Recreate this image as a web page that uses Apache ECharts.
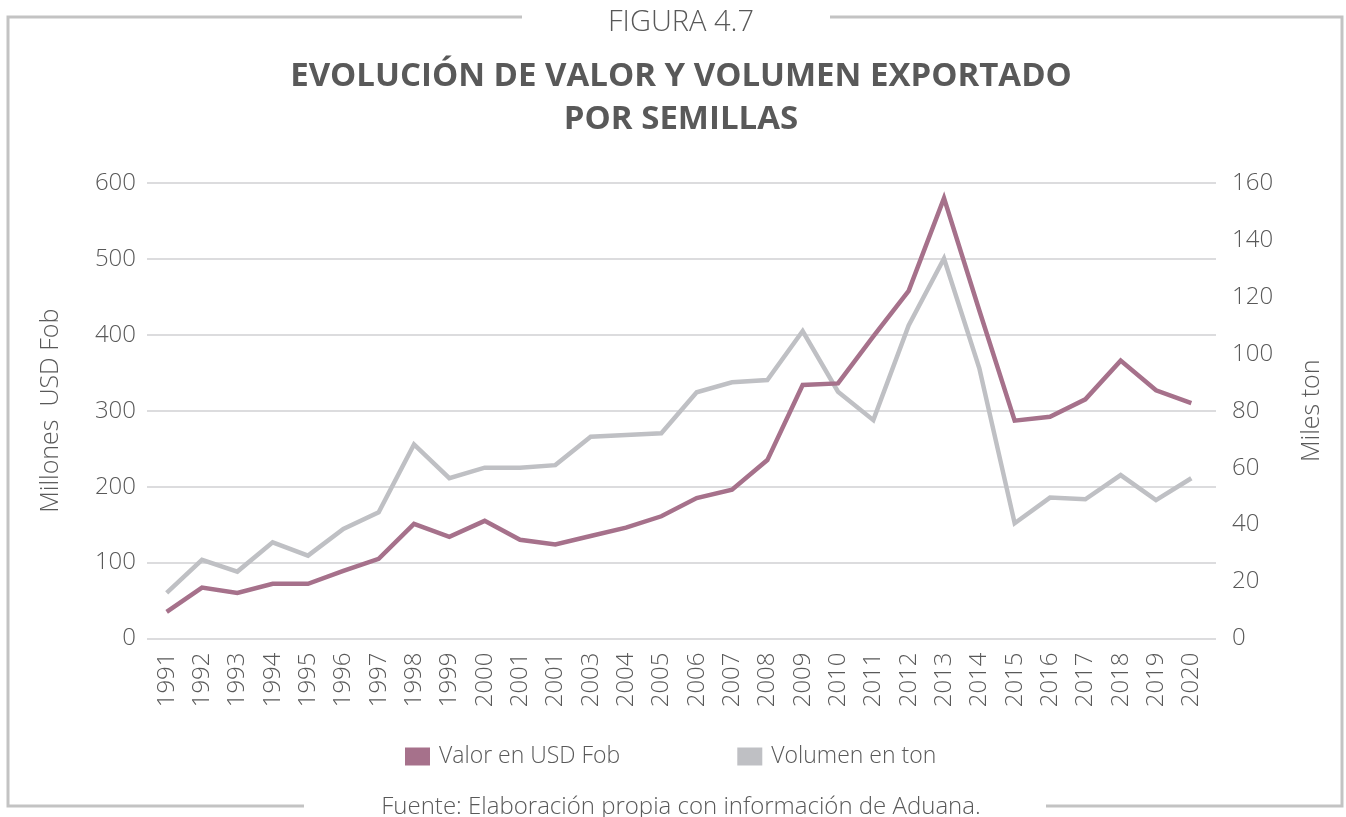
<!DOCTYPE html>
<html>
<head>
<meta charset="utf-8">
<script src="https://cdn.jsdelivr.net/npm/echarts@6/dist/echarts.min.js"></script>
<style>
html,body{margin:0;padding:0;background:#fff;}
#chart{width:1346px;height:817px;}
</style>
</head>
<body>
<div id="chart"></div>
<script>
var years = ['1991','1992','1993','1994','1995','1996','1997','1998','1999','2000','2001','2001','2003','2004','2005','2006','2007','2008','2009','2010','2011','2012','2013','2014','2015','2016','2017','2018','2019','2020'];
var valorUSD = [35, 67, 60, 72, 72, 89, 105, 151, 134, 155, 130, 124, 135, 146, 161, 185, 196, 235, 334, 336, 398, 458, 580, 432, 287, 292, 315, 366, 327, 310];
var volumenTon = [16, 27.6, 23.5, 33.8, 29.1, 38.5, 44.3, 68.2, 56.3, 60, 60, 60.9, 70.9, 71.5, 72.1, 86.5, 90, 90.8, 108, 86.7, 76.7, 110, 133.5, 94.9, 40.5, 49.5, 48.9, 57.4, 48.6, 56.3];
var leftTicks = [0, 100, 200, 300, 400, 500, 600];
var rightTicks = [0, 20, 40, 60, 80, 100, 120, 140, 160];

var FONT = '"Open Sans", "Liberation Sans", sans-serif';
var TXT = '#595959';
var PURPLE = '#a6718b';
var GREY = '#bfc0c4';
var FRAME = '#c3c3c3';

var chart = echarts.init(document.getElementById('chart'), null, {renderer:'canvas'});
var option = {
  backgroundColor: '#ffffff',
  animation: false,
  textStyle: {fontFamily: FONT},
  title: [
    {text: 'FIGURA 4.7', left: 676, textAlign: 'center', top: 3,
     textStyle: {fontFamily: FONT, fontWeight: 300, fontSize: 29, color: TXT}},
    {text: 'EVOLUCIÓN DE VALOR Y VOLUMEN EXPORTADO\nPOR SEMILLAS', left: 676, textAlign: 'center', top: 50,
     textStyle: {fontFamily: FONT, fontWeight: 'bold', fontSize: 33, lineHeight: 43, color: TXT}},
    {text: 'Fuente: Elaboración propia con información de Aduana.', left: 676, textAlign: 'center', top: 790,
     textStyle: {fontFamily: FONT, fontWeight: 300, fontSize: 24, color: TXT}}
  ],
  legend: {
    left: 405, top: 745, padding: 0,
    itemWidth: 25, itemHeight: 18, itemGap: 117,
    icon: 'rect',
    textStyle: {fontFamily: FONT, fontWeight: 300, fontSize: 23, color: TXT, padding: [0,0,0,4]},
    data: [
      {name: 'Valor en USD Fob', itemStyle: {color: PURPLE}},
      {name: 'Volumen en ton', itemStyle: {color: GREY}}
    ]
  },
  grid: [
    {left: 149, right: 137, top: 183, bottom: 178.5},
    {left: 147, right: 130, top: 183, bottom: 178.5}
  ],
  xAxis: [
    {type: 'category', gridIndex: 0, data: years, boundaryGap: true,
     axisLine: {show: false}, axisTick: {show: false},
     axisLabel: {rotate: 90, interval: 0, margin: 14, fontFamily: FONT, fontWeight: 300, fontSize: 24, color: TXT}},
    {type: 'category', gridIndex: 1, data: years, show: false}
  ],
  yAxis: [
    {type: 'value', gridIndex: 0, min: leftTicks[0], max: leftTicks[leftTicks.length-1], interval: 100,
     position: 'left',
     name: 'Millones  USD Fob', nameLocation: 'middle', nameGap: 86, nameRotate: 90,
     nameTextStyle: {fontFamily: FONT, fontWeight: 300, fontSize: 25, color: TXT},
     axisLine: {show: false}, axisTick: {show: false}, splitLine: {show: false},
     axisLabel: {margin: 13, fontFamily: FONT, fontWeight: 300, fontSize: 24, color: TXT}},
    {type: 'value', gridIndex: 0, min: rightTicks[0], max: rightTicks[rightTicks.length-1], interval: 20,
     position: 'right',
     name: 'Miles ton', nameLocation: 'middle', nameGap: 90, nameRotate: 90,
     nameTextStyle: {fontFamily: FONT, fontWeight: 300, fontSize: 25, color: TXT},
     axisLine: {show: false}, axisTick: {show: false}, splitLine: {show: false},
     axisLabel: {margin: 23, fontFamily: FONT, fontWeight: 300, fontSize: 24, color: TXT}},
    {type: 'value', gridIndex: 1, min: 0, max: 600, interval: 100,
     axisLine: {show: false}, axisTick: {show: false}, axisLabel: {show: false},
     splitLine: {show: true, lineStyle: {color: '#d0d0d3', width: 1.5}}}
  ],
  series: [
    {name: 'Valor en USD Fob', type: 'line', xAxisIndex: 0, yAxisIndex: 0, data: valorUSD,
     symbol: 'none', lineStyle: {color: PURPLE, width: 4.5, join: 'miter'}, itemStyle: {color: PURPLE}, z: 3},
    {name: 'Volumen en ton', type: 'line', xAxisIndex: 0, yAxisIndex: 1, data: volumenTon,
     symbol: 'none', lineStyle: {color: GREY, width: 4.5, join: 'miter'}, itemStyle: {color: GREY}, z: 2}
  ],
  graphic: [
    {type: 'polyline', shape: {points: [[522,17],[8,17],[8,806],[304,806]]},
     style: {stroke: FRAME, lineWidth: 3, fill: null}},
    {type: 'polyline', shape: {points: [[830,17],[1342,17],[1342,806],[1046,806]]},
     style: {stroke: FRAME, lineWidth: 3, fill: null}}
  ]
};
chart.setOption(option);
</script>
</body>
</html>
